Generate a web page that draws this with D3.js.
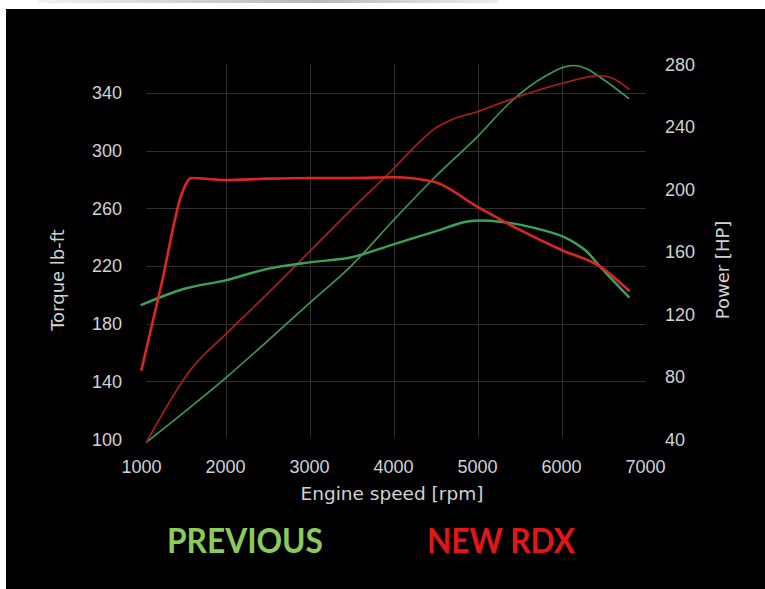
<!DOCTYPE html>
<html lang="en">
<head>
<meta charset="UTF-8">
<title>Torque and power</title>
<script src="https://d3js.org/d3.v7.min.js"></script>
<style>
  body { margin: 0; background: #fff; }
  svg { display: block; }
</style>
</head>
<body>
<svg id="chart"></svg>
<script>
// torque (lb-ft) and power (HP)
const rpmTorqueNew = [1000, 1240, 1480, 1590, 2000, 2500, 3000, 3500, 4000, 4470, 5000, 5470, 6000, 6460, 6800];
const torqueNew    = [148, 208, 270, 281, 279.5, 280.5, 281, 281, 281.5, 278.5, 261, 246, 231, 219.5, 203];

const rpmTorqueOld = [1000, 1500, 2000, 2500, 3000, 3500, 4000, 4500, 4900, 5000, 5300, 5700, 6100, 6300, 6460, 6800];
const torqueOld    = [193, 204, 210, 218, 222.5, 226, 235, 244, 251, 251.5, 250.5, 246, 238, 230, 219.5, 198.5];

const rpmPowerNew = [1060, 1580, 2000, 2500, 3000, 3500, 4000, 4250, 4500, 4700, 5000, 5400, 6000, 6450, 6600, 6800];
const powerNew    = [38, 84, 107, 133, 160, 187, 213, 227, 239, 244.5, 249.5, 257.5, 267.5, 272.5, 271, 264];

const rpmPowerOld = [1060, 2000, 3000, 3500, 4000, 4500, 5000, 5400, 5800, 6140, 6300, 6460, 6800];
const powerOld    = [38, 79, 127, 151, 180, 208, 233.5, 256, 272, 279, 277, 271.5, 258];

const rpmTicks = [1000, 2000, 3000, 4000, 5000, 6000, 7000];
const torqueTicks = [100, 140, 180, 220, 260, 300, 340];
const powerTicks = [40, 80, 120, 160, 200, 240, 280];

const legendLabels = ["PREVIOUS", "NEW RDX"];

const W = 765, H = 589;
const svg = d3.select("#chart").attr("width", W).attr("height", H);

// black panel plus faint bar at the very top
const grad = svg.append("defs").append("linearGradient").attr("id", "topbar");
grad.append("stop").attr("offset", "0%").attr("stop-color", "#f2f2f2");
grad.append("stop").attr("offset", "60%").attr("stop-color", "#b8b8b8");
grad.append("stop").attr("offset", "100%").attr("stop-color", "#eeeeee");
svg.append("rect").attr("x", 38).attr("y", 0).attr("width", 460).attr("height", 3).attr("fill", "url(#topbar)");
svg.append("rect").attr("x", 6).attr("y", 9).attr("width", W - 6).attr("height", H - 9).attr("fill", "#000");

const x = d3.scaleLinear().domain([1000, 7000]).range([141.5, 645.5]);
const yT = d3.scaleLinear().domain([100, 360]).range([439, 64]);
const yP = d3.scaleLinear().domain([40, 280]).range([439, 64]);

// grid
const grid = svg.append("g").attr("stroke", "#303030").attr("stroke-width", 1);
grid.selectAll("line.h")
  .data(torqueTicks.filter(d => d > 100))
  .join("line")
  .attr("x1", x(1000) + 5).attr("x2", x(7000))
  .attr("y1", d => Math.round(yT(d)) + 0.5).attr("y2", d => Math.round(yT(d)) + 0.5);
grid.selectAll("line.v")
  .data(rpmTicks.filter(d => d > 1000 && d < 7000))
  .join("line")
  .attr("x1", d => Math.round(x(d)) + 0.5).attr("x2", d => Math.round(x(d)) + 0.5)
  .attr("y1", yT(360)).attr("y2", 437);

// tick labels
const tickFont = "'Liberation Sans', Arial, sans-serif";
svg.append("g").selectAll("text")
  .data(rpmTicks).join("text")
  .attr("x", d => x(d)).attr("y", 473)
  .attr("text-anchor", "middle")
  .attr("font-family", tickFont).attr("font-size", 18).attr("fill", "#d2d2d2")
  .text(d => d);

svg.append("g").selectAll("text")
  .data(torqueTicks).join("text")
  .attr("x", 122).attr("y", d => yT(d) + 6.5)
  .attr("text-anchor", "end")
  .attr("font-family", tickFont).attr("font-size", 18).attr("fill", "#d2d2d2")
  .text(d => d);

svg.append("g").selectAll("text")
  .data(powerTicks).join("text")
  .attr("x", 665).attr("y", d => yP(d) + 6.5)
  .attr("text-anchor", "start")
  .attr("font-family", tickFont).attr("font-size", 18).attr("fill", "#d2d2d2")
  .text(d => d);

// axis titles
const titleFont = "'DejaVu Sans', sans-serif";
svg.append("text")
  .attr("x", 392).attr("y", 500)
  .attr("text-anchor", "middle")
  .attr("font-family", titleFont).attr("font-size", 18.5).attr("fill", "#d2d2d2")
  .text("Engine speed [rpm]");
svg.append("text")
  .attr("transform", "translate(64,280) rotate(-90)")
  .attr("text-anchor", "middle")
  .attr("font-family", titleFont).attr("font-size", 18).attr("fill", "#d2d2d2")
  .text("Torque lb-ft");
svg.append("text")
  .attr("transform", "translate(729,270) rotate(-90)")
  .attr("text-anchor", "middle")
  .attr("font-family", titleFont).attr("font-size", 18).attr("fill", "#d2d2d2")
  .text("Power [HP]");

// curves
const series = [
  { rpm: rpmPowerOld, val: powerOld, y: yP, color: "#3f9a56", width: 1.6 },
  { rpm: rpmPowerNew, val: powerNew, y: yP, color: "#b21d1d", width: 1.6 },
  { rpm: rpmTorqueOld, val: torqueOld, y: yT, color: "#3aa35a", width: 2.4 },
  { rpm: rpmTorqueNew, val: torqueNew, y: yT, color: "#de2424", width: 2.6 }
];

series.forEach(s => {
  const pts = s.rpm.map((r, i) => [r, s.val[i]]);
  const line = d3.line()
    .x(d => x(d[0]))
    .y(d => s.y(d[1]))
    .curve(d3.curveMonotoneX);
  svg.append("path")
    .attr("d", line(pts))
    .attr("fill", "none")
    .attr("stroke", s.color)
    .attr("stroke-width", s.width)
    .attr("stroke-linejoin", "round")
    .attr("stroke-linecap", "round");
});

// legend
const legendFont = "Lato, 'Open Sans', sans-serif";
const legendX = [167, 427];
const legendW = [156, 148];
const legendColors = ["#8cca5a", "#e21616"];
svg.append("g").selectAll("text")
  .data(legendLabels).join("text")
  .attr("x", (d, i) => legendX[i]).attr("y", 553)
  .attr("textLength", (d, i) => legendW[i])
  .attr("lengthAdjust", "spacingAndGlyphs")
  .attr("font-family", legendFont).attr("font-weight", 700).attr("font-size", 34)
  .attr("fill", (d, i) => legendColors[i])
  .text(d => d);
</script>
</body>
</html>
